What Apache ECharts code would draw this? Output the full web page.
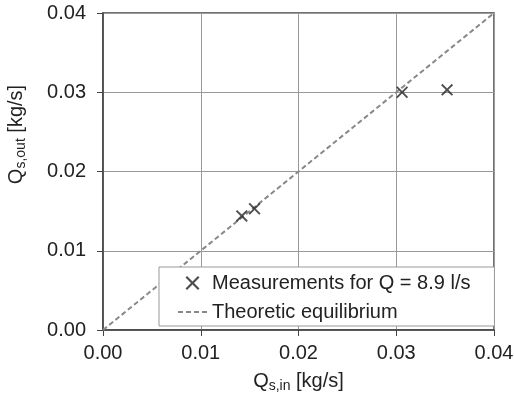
<!DOCTYPE html>
<html>
<head>
<meta charset="utf-8">
<script src="https://cdn.jsdelivr.net/npm/echarts@6/dist/echarts.min.js"></script>
<style>
  html, body { margin: 0; padding: 0; background: #fff; }
  #main { width: 514px; height: 400px; }
</style>
</head>
<body>
<div id="main"></div>
<script>
// measured points, Q = 8.9 l/s
var qsIn = [0.0142, 0.0155, 0.0306, 0.0352];
var qsOut = [0.0144, 0.0153, 0.0300, 0.0303];
// theoretic equilibrium line end points
var eqLine = [0, 0.04];

var crossPath = 'path://M0,1.1L1.1,0L5,3.9L8.9,0L10,1.1L6.1,5L10,8.9L8.9,10L5,6.1L1.1,10L0,8.9L3.9,5Z';
var dashPath = 'path://M0,0h5v2h-5zM8,0h5v2h-5zM16,0h5v2h-5zM24,0h5v2h-5z';

var myChart = echarts.init(document.getElementById('main'));

var pts = [];
for (var i = 0; i < qsIn.length; i++) {
    pts.push([qsIn[i], qsOut[i]]);
}
var eq = [];
for (var i = 0; i < eqLine.length; i++) {
    eq.push([eqLine[i], eqLine[i]]);
}

var axisFont = 'Liberation Sans, Arial, sans-serif';
var nameRich = {
    a: { fontSize: 20, color: '#222', fontFamily: axisFont },
    b: { fontSize: 14, color: '#222', fontFamily: axisFont, padding: [9, 0, 0, 0] }
};

var option = {
    animation: false,
    textStyle: { fontFamily: axisFont },
    grid: {
        left: 103, right: 20, top: 13, bottom: 70,
        outerBoundsMode: 'none',
        show: true, borderColor: '#444', borderWidth: 1.5
    },
    legend: {
        orient: 'vertical',
        left: 159, top: 267,
        padding: [6, 24, 4, 19],
        itemGap: 9,
        itemWidth: 29, itemHeight: 14,
        backgroundColor: '#fff',
        borderColor: '#999', borderWidth: 1,
        textStyle: { fontSize: 20, lineHeight: 20, color: '#222', fontFamily: axisFont },
        data: [
            { name: 'Measurements for Q = 8.9 l/s', icon: crossPath, itemStyle: { color: '#222' } },
            { name: 'Theoretic equilibrium', icon: dashPath, itemStyle: { color: '#888' } }
        ]
    },
    xAxis: {
        type: 'value', min: 0, max: 0.04, interval: 0.01,
        name: '{a|Q}{b|s,in}{a| [kg/s]}',
        nameLocation: 'middle', nameGap: 40,
        nameTextStyle: { rich: nameRich },
        axisLine: { show: true, lineStyle: { color: '#444', width: 1.5 } },
        axisTick: { show: true, length: 6, lineStyle: { color: '#444' } },
        axisLabel: {
            fontSize: 20, color: '#222', margin: 13,
            formatter: function (v) { return v.toFixed(2); }
        },
        splitLine: { lineStyle: { color: '#999', width: 1 } }
    },
    yAxis: {
        type: 'value', min: 0, max: 0.04, interval: 0.01,
        name: '{a|Q}{b|s,out}{a| [kg/s]}',
        nameLocation: 'middle', nameGap: 75,
        nameTextStyle: { padding: [0, 0, 0, 74], rich: nameRich },
        axisLine: { show: true, lineStyle: { color: '#444', width: 1.5 } },
        axisTick: { show: true, length: 6, lineStyle: { color: '#444' } },
        axisLabel: {
            fontSize: 20, color: '#222', margin: 17,
            formatter: function (v) { return v.toFixed(2); }
        },
        splitLine: { lineStyle: { color: '#999', width: 1 } }
    },
    series: [
        {
            name: 'Theoretic equilibrium',
            type: 'line',
            data: eq,
            symbol: 'none',
            lineStyle: { color: '#888', width: 2, type: [5, 3] },
            itemStyle: { color: '#888' },
            z: 2
        },
        {
            name: 'Measurements for Q = 8.9 l/s',
            type: 'scatter',
            data: pts,
            symbol: crossPath,
            symbolSize: 12,
            itemStyle: { color: '#222' },
            z: 3
        }
    ]
};

option && myChart.setOption(option);
</script>
</body>
</html>
